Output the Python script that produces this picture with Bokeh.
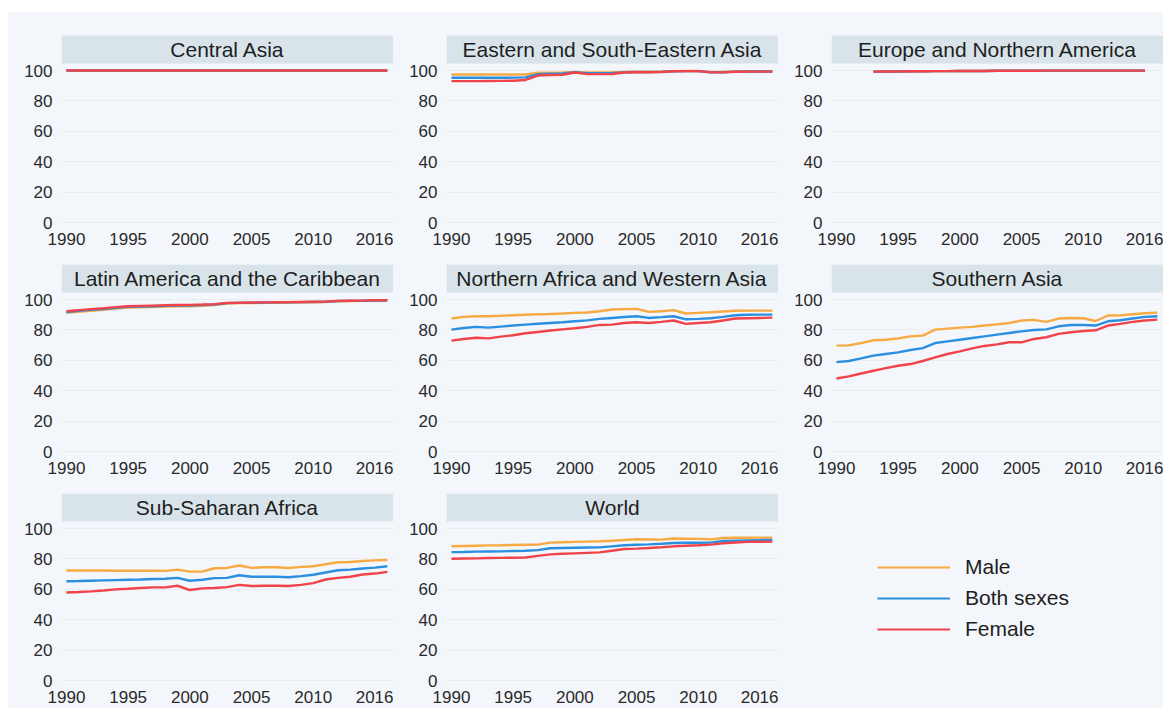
import math
from bokeh.plotting import figure
from bokeh.models import (Range1d, FixedTicker, BoxAnnotation, Label, Legend,
                          LegendItem, ColumnDataSource, Spacer)
from bokeh.layouts import column, row
from bokeh.embed import file_html
from bokeh.resources import INLINE

NaN = float("nan")

years = [1990, 1991, 1992, 1993, 1994, 1995, 1996, 1997, 1998, 1999, 2000,
         2001, 2002, 2003, 2004, 2005, 2006, 2007, 2008, 2009, 2010, 2011,
         2012, 2013, 2014, 2015, 2016]
x_ticks = [1990, 1995, 2000, 2005, 2010, 2016]
y_ticks = [0, 20, 40, 60, 80, 100]
series_names = ["Male", "Both sexes", "Female"]

regions = ["Central Asia", "Eastern and South-Eastern Asia", "Europe and Northern America",
           "Latin America and the Caribbean", "Northern Africa and Western Asia", "Southern Asia",
           "Sub-Saharan Africa", "World"]

central_asia_male = [100, 100, 100, 100, 100, 100, 100, 100, 100, 100, 100, 100, 100, 100,
                     100, 100, 100, 100, 100, 100, 100, 100, 100, 100, 100, 100, 100]
central_asia_both = [100, 100, 100, 100, 100, 100, 100, 100, 100, 100, 100, 100, 100, 100,
                     100, 100, 100, 100, 100, 100, 100, 100, 100, 100, 100, 100, 100]
central_asia_female = [100, 100, 100, 100, 100, 100, 100, 100, 100, 100, 100, 100, 100, 100,
                       100, 100, 100, 100, 100, 100, 100, 100, 100, 100, 100, 100, 100]

east_asia_male = [97.4, 97.4, 97.4, 97.4, 97.4, 97.4, 97.4, 98.5, 98.6, 98.7, 99.0, 98.8, 98.8,
                  98.9, 99.1, 99.2, 99.2, 99.3, 99.6, 99.7, 99.7, 99.1, 99.1, 99.4, 99.5, 99.5, 99.5]
east_asia_both = [95.2, 95.2, 95.2, 95.2, 95.2, 95.3, 95.5, 97.6, 97.9, 98.0, 98.9, 98.2, 98.2,
                  98.3, 98.9, 99.0, 99.0, 99.1, 99.5, 99.6, 99.6, 98.9, 98.9, 99.3, 99.4, 99.4, 99.4]
east_asia_female = [93.0, 93.0, 93.0, 93.1, 93.2, 93.3, 93.8, 96.7, 97.1, 97.2, 98.7, 97.6, 97.6,
                    97.7, 98.7, 98.9, 98.9, 99.0, 99.5, 99.6, 99.6, 98.8, 98.8, 99.2, 99.3, 99.3, 99.3]

europe_male = [NaN, NaN, NaN, 99.3, 99.4, 99.4, 99.5, 99.5, 99.6, 99.6, 99.7, 99.7, 99.7, 99.8,
               99.8, 99.8, 99.8, 99.9, 99.9, 99.9, 99.9, 99.9, 99.9, 99.9, 99.9, 99.9, NaN]
europe_both = [NaN, NaN, NaN, 99.3, 99.4, 99.4, 99.5, 99.5, 99.6, 99.6, 99.7, 99.7, 99.7, 99.8,
               99.8, 99.8, 99.8, 99.9, 99.9, 99.9, 99.9, 99.9, 99.9, 99.9, 99.9, 99.9, NaN]
europe_female = [NaN, NaN, NaN, 99.3, 99.4, 99.4, 99.5, 99.5, 99.6, 99.6, 99.7, 99.7, 99.7, 99.8,
                 99.8, 99.8, 99.8, 99.9, 99.9, 99.9, 99.9, 99.9, 99.9, 99.9, 99.9, 99.9, NaN]

latam_male = [91.2, 91.9, 92.6, 93.3, 94.0, 94.7, 94.9, 95.1, 95.3, 95.5, 95.6, 95.8, 96.3, 97.4,
              97.6, 97.7, 97.8, 97.9, 98.0, 98.1, 98.2, 98.4, 98.8, 99.0, 99.1, 99.3, 99.4]
latam_both = [91.8, 92.5, 93.2, 93.8, 94.5, 95.2, 95.4, 95.6, 95.8, 96.0, 96.1, 96.3, 96.7, 97.6,
              97.8, 97.9, 98.0, 98.1, 98.2, 98.3, 98.4, 98.5, 99.0, 99.1, 99.2, 99.4, 99.5]
latam_female = [92.3, 93.0, 93.7, 94.3, 95.0, 95.6, 95.8, 96.0, 96.2, 96.4, 96.5, 96.7, 97.0, 97.8,
                97.9, 98.0, 98.1, 98.2, 98.3, 98.4, 98.5, 98.6, 99.1, 99.2, 99.3, 99.5, 99.6]

nawa_male = [87.5, 88.6, 89.0, 89.0, 89.3, 89.7, 90.0, 90.3, 90.5, 90.8, 91.2, 91.5, 92.3, 93.4,
             93.7, 93.8, 91.9, 92.3, 93.0, 90.8, 91.2, 91.6, 92.1, 92.6, 92.7, 92.7, 92.7]
nawa_both = [80.2, 81.3, 82.0, 81.5, 82.2, 82.9, 83.5, 84.1, 84.6, 85.1, 85.7, 86.3, 87.3, 87.9,
             88.5, 89.0, 87.9, 88.4, 89.0, 87.0, 87.3, 87.7, 88.6, 89.7, 90.0, 90.1, 90.1]
nawa_female = [73.0, 74.1, 74.9, 74.5, 75.6, 76.5, 77.8, 78.7, 79.6, 80.4, 81.1, 82.0, 83.3, 83.5,
               84.6, 85.1, 84.6, 85.3, 86.2, 84.0, 84.6, 85.1, 86.2, 87.5, 87.7, 87.9, 88.1]

south_asia_male = [69.7, 69.9, 71.4, 73.2, 73.6, 74.5, 75.8, 76.3, 80.2, 80.9, 81.5, 82.0, 82.9,
                   83.7, 84.6, 86.2, 86.6, 85.3, 87.5, 87.9, 87.7, 85.9, 89.5, 89.7, 90.3, 91.0, 91.4]
south_asia_both = [58.9, 59.6, 61.3, 63.1, 64.2, 65.3, 66.8, 68.1, 71.4, 72.5, 73.6, 74.7, 75.8,
                   76.9, 78.0, 79.1, 80.0, 80.4, 82.4, 83.3, 83.3, 82.9, 85.7, 86.4, 87.5, 88.6, 89.0]
south_asia_female = [48.1, 49.5, 51.4, 53.2, 54.9, 56.5, 57.6, 59.6, 62.0, 64.2, 65.9, 67.9, 69.5,
                     70.5, 71.9, 71.9, 74.1, 75.2, 77.4, 78.5, 79.3, 79.8, 82.9, 84.0, 85.3, 86.2, 86.8]

ssa_male = [72.4, 72.4, 72.4, 72.4, 72.3, 72.3, 72.3, 72.3, 72.2, 73.0, 71.7, 71.7, 73.9, 74.1,
            75.7, 74.1, 74.6, 74.6, 74.1, 74.8, 75.2, 76.5, 77.8, 78.0, 78.7, 79.1, 79.3]
ssa_both = [65.4, 65.5, 65.7, 65.9, 66.1, 66.3, 66.5, 66.8, 67.0, 67.6, 65.7, 66.3, 67.4, 67.6,
            69.3, 68.3, 68.3, 68.3, 68.0, 68.7, 69.6, 71.1, 72.6, 73.0, 73.7, 74.3, 75.2]
ssa_female = [58.0, 58.3, 58.7, 59.3, 60.0, 60.4, 60.9, 61.3, 61.3, 62.4, 59.6, 60.7, 60.9, 61.5,
              63.0, 62.2, 62.4, 62.4, 62.2, 63.0, 64.1, 66.5, 67.6, 68.3, 69.8, 70.4, 71.5]

world_male = [88.3, 88.5, 88.7, 88.9, 89.0, 89.2, 89.3, 89.4, 90.7, 91.0, 91.2, 91.4, 91.6, 92.0,
              92.5, 92.9, 92.8, 92.7, 93.4, 93.3, 93.2, 92.9, 93.8, 93.9, 93.9, 94.0, 94.0]
world_both = [84.5, 84.6, 84.8, 84.9, 85.0, 85.2, 85.4, 85.8, 87.0, 87.2, 87.4, 87.5, 87.6, 88.3,
              89.0, 89.3, 89.6, 90.0, 90.5, 90.6, 90.6, 90.7, 91.8, 92.0, 92.2, 92.4, 92.5]
world_female = [80.1, 80.3, 80.4, 80.6, 80.7, 80.8, 81.0, 82.0, 83.0, 83.4, 83.7, 84.0, 84.3, 85.4,
                86.5, 86.8, 87.2, 87.7, 88.3, 88.7, 89.0, 89.4, 90.3, 90.8, 91.2, 91.3, 91.4]

region_series = [
    (central_asia_male, central_asia_both, central_asia_female),
    (east_asia_male, east_asia_both, east_asia_female),
    (europe_male, europe_both, europe_female),
    (latam_male, latam_both, latam_female),
    (nawa_male, nawa_both, nawa_female),
    (south_asia_male, south_asia_both, south_asia_female),
    (ssa_male, ssa_both, ssa_female),
    (world_male, world_both, world_female),
]

# ---- styling ----
BG = "#f3f6fa"
STRIP = "#d9e4ea"
GRID = "#e9edf2"
TEXT = "#1e1e1e"
COLORS = ["#f8aa42", "#2b8fdf", "#f0434a"]
FONT = "Liberation Sans"

X0, X1 = 1989.6, 2016.5
Y0, Y1 = -0.5, 123.0
STRIP_BOTTOM = 104.6
FW, FH = 332, 188
BORDER_L = 53


def make_panel(title, series, top, bottom):
    p = figure(frame_width=FW, frame_height=FH,
               x_range=Range1d(X0, X1), y_range=Range1d(Y0, Y1),
               output_backend="svg", toolbar_location=None,
               min_border_left=BORDER_L, min_border_right=0,
               min_border_top=top, min_border_bottom=bottom,
               background_fill_color=BG, border_fill_color=BG,
               outline_line_color=None)
    p.xgrid.visible = False
    p.ygrid.grid_line_color = GRID
    p.ygrid.grid_line_width = 1
    p.xaxis.ticker = FixedTicker(ticks=x_ticks)
    p.yaxis.ticker = FixedTicker(ticks=y_ticks)
    for ax in (p.xaxis, p.yaxis):
        ax.axis_line_color = None
        ax.major_tick_line_color = None
        ax.minor_tick_line_color = None
        ax.major_label_text_font = FONT
        ax.major_label_text_font_size = "17px"
        ax.major_label_text_color = "#2a2a2a"
    p.xaxis.major_label_standoff = 3
    p.yaxis.major_label_standoff = 3

    p.add_layout(BoxAnnotation(bottom=STRIP_BOTTOM, fill_color=STRIP, fill_alpha=1.0,
                               line_color=None, level="underlay"))
    p.add_layout(Label(x=(X0 + X1) / 2, y=(STRIP_BOTTOM + Y1) / 2, text=title,
                       text_align="center", text_baseline="middle",
                       text_font=FONT, text_font_size="21px", text_color=TEXT))

    for vals, color in zip(series, COLORS):
        p.line(years, vals, line_color=color, line_width=2.4)
    return p


tops = [23, 0, 0]
bottoms = [41, 41, 27]
figs = []
for i, (name, ser) in enumerate(zip(regions, region_series)):
    r = i // 3
    figs.append(make_panel(name, ser, tops[r], bottoms[r]))

# legend panel
lp = figure(frame_width=FW, frame_height=FH,
            x_range=Range1d(X0, X1), y_range=Range1d(Y0, Y1),
            output_backend="svg", toolbar_location=None,
            min_border_left=BORDER_L, min_border_right=0,
            min_border_top=tops[2], min_border_bottom=bottoms[2],
            background_fill_color=BG, border_fill_color=BG,
            outline_line_color=None)
lp.axis.visible = False
lp.grid.visible = False
items = []
for name, color in zip(series_names, COLORS):
    src = ColumnDataSource(data=dict(x=[NaN], y=[NaN]))
    rr = lp.line("x", "y", source=src, line_color=color, line_width=2)
    items.append(LegendItem(label=name, renderers=[rr]))
legend = Legend(items=items, location=(46, 40),
                label_text_font=FONT, label_text_font_size="21px",
                label_text_color=TEXT, glyph_width=73, glyph_height=22,
                label_height=22, label_standoff=15, spacing=7,
                padding=0, margin=0,
                background_fill_alpha=0, border_line_color=None)
lp.add_layout(legend)
figs.append(lp)

grid = column(row(*figs[0:3], styles={"background-color": BG}),
              row(*figs[3:6], styles={"background-color": BG}),
              row(*figs[6:9], styles={"background-color": BG}),
              styles={"background-color": BG})
layout = column(Spacer(height=12), row(Spacer(width=8), grid))

open("out.html", "w").write(file_html(layout, INLINE))
